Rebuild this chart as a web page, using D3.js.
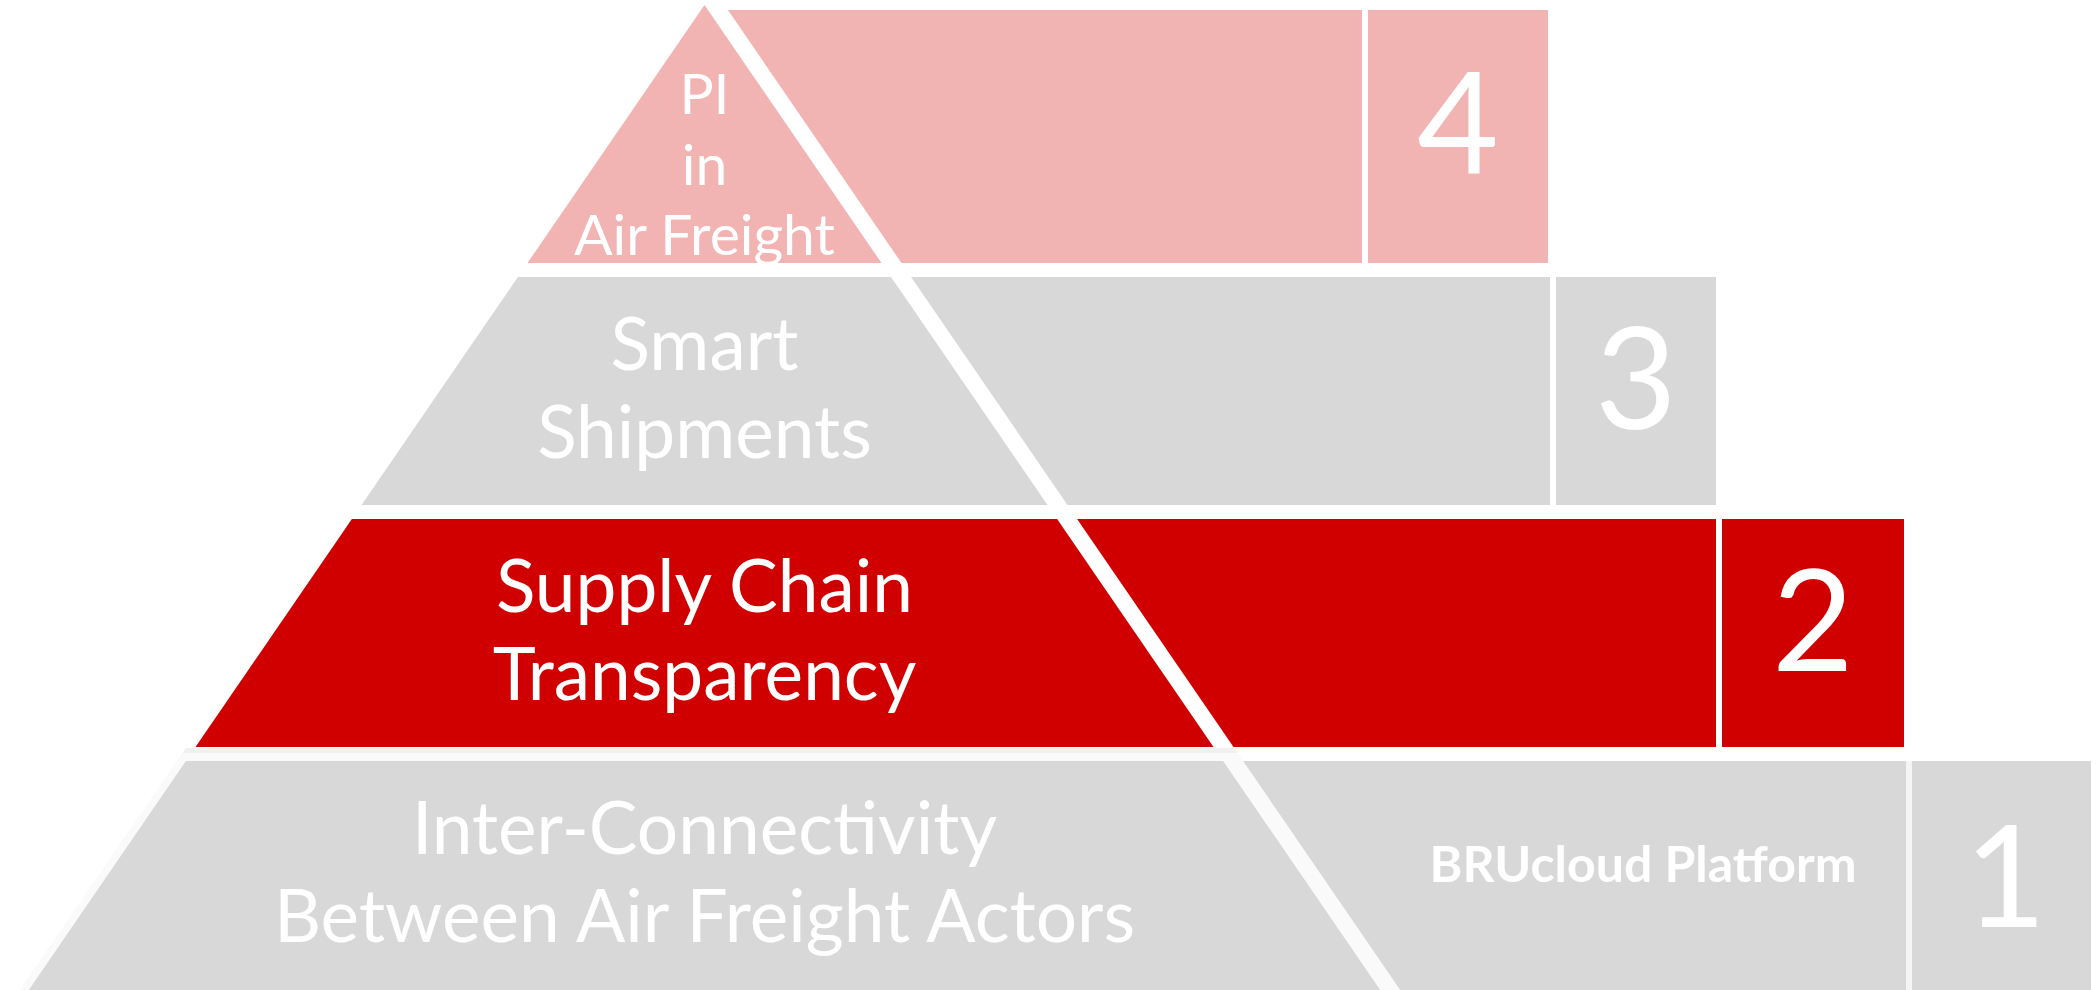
<!DOCTYPE html>
<html>
<head>
<meta charset="utf-8">
<script src="https://cdn.jsdelivr.net/npm/d3@7"></script>
<style>
  html, body { margin: 0; padding: 0; background: #fff; }
  svg { display: block; }
  .label { font-family: Lato, "Open Sans", sans-serif; fill: #fff; text-anchor: middle; }
</style>
</head>
<body>
<svg id="chart"></svg>
<script>
// pyramid levels, top to bottom
const levels = [4, 3, 2, 1];
const levelLabels = [
  ["PI", "in", "Air Freight"],
  ["Smart", "Shipments"],
  ["Supply Chain", "Transparency"],
  ["Inter-Connectivity", "Between Air Freight Actors"]
];
const sideLabels = ["", "", "", "BRUcloud Platform"];
const numberLabels = ["4", "3", "2", "1"];

const width = 2100, height = 990;

// layout
const axisX = 704.5, apexY = 5, slope = 0.686, gap = 20, divW = 6;
const rightEnd = { 4: 1548, 3: 1716, 2: 1904, 1: 2091 };
const boxW = { 4: 180, 3: 160, 2: 182, 1: 179 };

const color = d3.scaleOrdinal()
  .domain(levels)
  .range(["#f2b3b3", "#d8d8d8", "#d00000", "#d8d8d8"]);

const y = d3.scaleBand()
  .domain(levels)
  .range([35, 989])
  .paddingInner(14 / 242);

const half = yy => slope * (yy - apexY);
const line = d3.line();

const svg = d3.select("#chart")
  .attr("width", width)
  .attr("height", height);

const rows = levels.map((lv, i) => {
  const top = lv === 4 ? 10 : y(lv);
  const bottom = lv === 1 ? height : y(lv) + y.bandwidth();
  return {
    level: lv, i, top, bottom,
    pyrTop: lv === 4 ? apexY : top,
    lines: levelLabels[i],
    side: sideLabels[i],
    num: numberLabels[i]
  };
});

// faint halo round the bottom tier
const b1 = rows[3];
const hTop = 748;
svg.append("path")
  .attr("d", line([
    [axisX - half(hTop) - 9, hTop], [axisX + half(hTop) + gap, hTop],
    [axisX + half(height) + gap, height], [axisX - half(height) - 9, height]
  ]) + "Z")
  .attr("fill", "#fafafa");
svg.append("path")
  .attr("d", line([
    [axisX - half(hTop) - 9, hTop], [axisX + half(hTop) + gap, hTop],
    [axisX + half(hTop + 5) + gap, hTop + 5], [axisX - half(hTop + 5) - 9, hTop + 5]
  ]) + "Z")
  .attr("fill", "#f0f0f0");
svg.append("rect")
  .attr("x", rightEnd[1] - boxW[1] - divW)
  .attr("y", b1.top)
  .attr("width", divW)
  .attr("height", height - b1.top)
  .attr("fill", "#f5f5f5");

const g = svg.selectAll("g.tier")
  .data(rows)
  .join("g")
  .attr("class", "tier");

// pyramid slice
g.append("path")
  .attr("d", d => line([
    [axisX - half(d.pyrTop), d.pyrTop], [axisX + half(d.pyrTop), d.pyrTop],
    [axisX + half(d.bottom), d.bottom], [axisX - half(d.bottom), d.bottom]
  ]) + "Z")
  .attr("fill", d => color(d.level));

// slanted bar to the right
g.append("path")
  .attr("d", d => {
    const divX = rightEnd[d.level] - boxW[d.level] - divW;
    return line([
      [axisX + half(d.top) + gap, d.top], [divX, d.top],
      [divX, d.bottom], [axisX + half(d.bottom) + gap, d.bottom]
    ]) + "Z";
  })
  .attr("fill", d => color(d.level));

// number box
g.append("rect")
  .attr("x", d => rightEnd[d.level] - boxW[d.level])
  .attr("y", d => d.top)
  .attr("width", d => boxW[d.level])
  .attr("height", d => d.bottom - d.top)
  .attr("fill", d => color(d.level));

// pyramid labels
g.each(function(d) {
  const small = d.level === 4;
  const fs = small ? 57 : 73;
  const lead = small ? 70.5 : 88.5;
  const cap = fs * 0.7165;
  const mid = small ? 164.5 : y(d.level) + y.bandwidth() / 2 - 3;
  const n = d.lines.length;
  d3.select(this).selectAll("text.lv")
    .data(d.lines)
    .join("text")
    .attr("class", "label lv")
    .attr("x", axisX)
    .attr("y", (t, j) => mid + (j - (n - 1) / 2) * lead + cap / 2)
    .attr("font-size", fs)
    .text(t => t);
});

// side label
g.filter(d => d.side)
  .append("text")
  .attr("class", "label")
  .attr("x", 1643)
  .attr("y", 882)
  .attr("font-size", 50)
  .attr("font-weight", 700)
  .text(d => d.side);

// level numbers
g.append("text")
  .attr("class", "label")
  .attr("x", d => rightEnd[d.level] - boxW[d.level] / 2 + (d.level === 1 ? 4 : 0))
  .attr("y", d => {
    const bot = d.level === 1 ? 1017 : d.bottom;
    return (d.top + bot) / 2 - 13 + 141 * 0.7165 / 2;
  })
  .attr("font-size", 141)
  .text(d => d.num);
</script>
</body>
</html>
